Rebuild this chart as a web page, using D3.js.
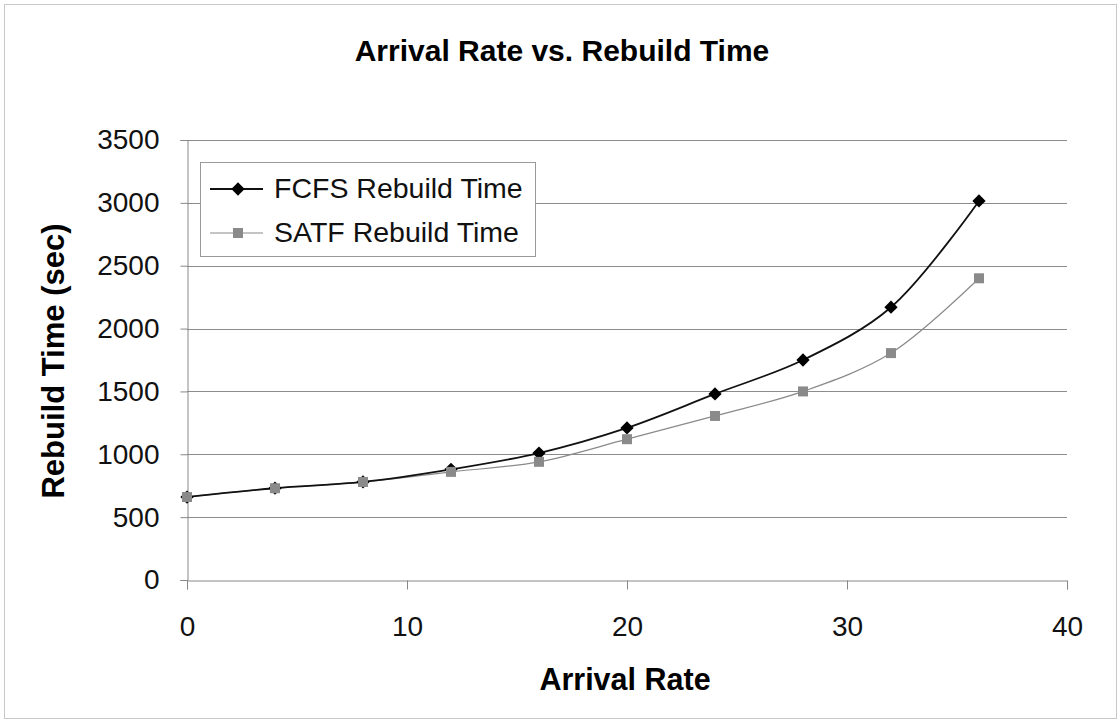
<!DOCTYPE html>
<html><head><meta charset="utf-8">
<script src="https://cdn.jsdelivr.net/npm/d3@7"></script>
<style>body{margin:0;background:#fff}svg{display:block}text{font-family:"Liberation Sans",Arial,sans-serif}</style>
</head><body><svg id="c" width="1120" height="725"></svg>
<script>
const arrivalRates = [0, 4, 8, 12, 16, 20, 24, 28, 32, 36];
const fcfs = [660, 730, 780, 880, 1010, 1210, 1480, 1750, 2170, 3015];
const satf = [660, 730, 780, 860, 940, 1120, 1305, 1500, 1805, 2400];
const xTicks = [0, 10, 20, 30, 40];
const yTicks = [0, 500, 1000, 1500, 2000, 2500, 3000, 3500];
const seriesNames = ["FCFS Rebuild Time", "SATF Rebuild Time"];

const svg = d3.select("#c");
svg.append("rect").attr("x",4.5).attr("y",4.5).attr("width",1112).attr("height",714)
  .attr("fill","#fff").attr("stroke","#c8c8c8");

const x = d3.scaleLinear().domain([0,40]).range([187,1067]);
const y = d3.scaleLinear().domain([0,3500]).range([580,140]);

// gridlines
svg.append("g").selectAll("line").data(yTicks.filter(d=>d>0)).join("line")
  .attr("x1",187).attr("x2",1067).attr("y1",d=>Math.round(y(d))+0.5).attr("y2",d=>Math.round(y(d))+0.5)
  .attr("stroke","#8c8c8c").attr("stroke-width",1);

// axes
const ya = svg.append("g").attr("transform","translate(187.5,0)")
  .call(d3.axisLeft(y).tickValues(yTicks).tickFormat(d3.format("d")).tickSize(7).tickPadding(21));
const xa = svg.append("g").attr("transform","translate(0,580.5)")
  .call(d3.axisBottom(x).tickValues(xTicks).tickFormat(d3.format("d")).tickSize(9).tickPadding(27));
[ya,xa].forEach(a=>{
  a.attr("font-size",28).attr("font-family","'Liberation Sans',Arial,sans-serif");
  a.select(".domain").attr("stroke","#888");
  a.selectAll(".tick line").attr("stroke","#888");
  a.selectAll("text").attr("fill","#111");
});

// titles
svg.append("text").attr("x",562).attr("y",61).attr("text-anchor","middle")
  .attr("font-size",30).attr("font-weight","bold").text("Arrival Rate vs. Rebuild Time");
svg.append("text").attr("x",625).attr("y",690).attr("text-anchor","middle")
  .attr("font-size",30.5).attr("font-weight","bold").text("Arrival Rate");
svg.append("text").attr("transform","translate(64,361) rotate(-90)").attr("text-anchor","middle")
  .attr("font-size",31).attr("font-weight","bold").text("Rebuild Time (sec)");

const line = d3.line().x(d=>x(d[0])).y(d=>y(d[1])).curve(d3.curveCatmullRom.alpha(0.5));
const fData = arrivalRates.map((a,i)=>[a,fcfs[i]]);
const sData = arrivalRates.map((a,i)=>[a,satf[i]]);

svg.append("path").attr("d",line(sData)).attr("fill","none").attr("stroke","#8a8a8a").attr("stroke-width",1.2);
svg.append("path").attr("d",line(fData)).attr("fill","none").attr("stroke","#111").attr("stroke-width",1.8);

const sq = d3.symbol().type(d3.symbolSquare).size(100);
const di = d3.symbol().type(d3.symbolSquare).size(88);
svg.append("g").selectAll("path").data(fData).join("path")
  .attr("transform",d=>`translate(${x(d[0])},${y(d[1])}) rotate(45)`).attr("d",di).attr("fill","#000");
svg.append("g").selectAll("path").data(sData).join("path")
  .attr("transform",d=>`translate(${x(d[0])},${y(d[1])})`).attr("d",sq).attr("fill","#8a8a8a");

// legend
const lg = svg.append("g");
lg.append("rect").attr("x",200.5).attr("y",162.5).attr("width",335).attr("height",94)
  .attr("fill","#fff").attr("stroke","#999");
const rows = [{name:seriesNames[0],y:189,stroke:"#111",sw:1.8,sym:di,rot:45,fill:"#000"},
              {name:seriesNames[1],y:233,stroke:"#8a8a8a",sw:1.2,sym:sq,rot:0,fill:"#8a8a8a"}];
rows.forEach(r=>{
  lg.append("line").attr("x1",210).attr("x2",263).attr("y1",r.y).attr("y2",r.y)
    .attr("stroke",r.stroke).attr("stroke-width",r.sw);
  lg.append("path").attr("transform",`translate(238,${r.y}) rotate(${r.rot})`).attr("d",r.sym).attr("fill",r.fill);
  lg.append("text").attr("x",274).attr("y",r.y+9).attr("font-size",28.5).attr("fill","#111").text(r.name);
});
</script></body></html>
